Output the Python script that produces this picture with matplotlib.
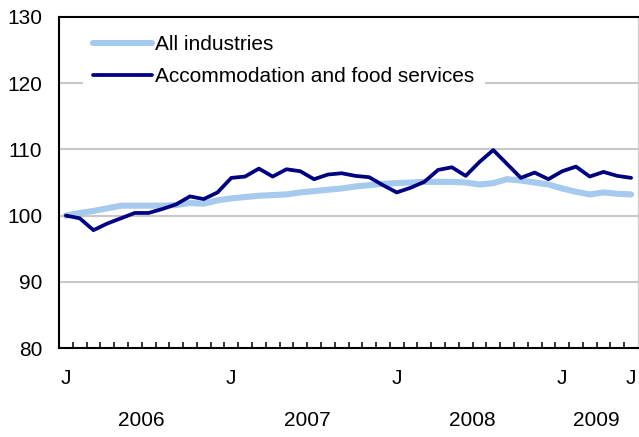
import numpy as np
import matplotlib
matplotlib.use("Agg")
import matplotlib.pyplot as plt
import matplotlib.transforms as mtransforms

# Monthly index, January 2006 = 100, Jan 2006 .. Jun 2009
all_industries = [
    100.0, 100.4, 100.7, 101.1, 101.5, 101.5, 101.5, 101.5, 101.6, 101.9,
    101.8, 102.3, 102.6, 102.8, 103.0, 103.1, 103.2, 103.5, 103.7, 103.9,
    104.1, 104.4, 104.6, 104.8, 104.9, 105.0, 105.1, 105.1, 105.1, 105.0,
    104.7, 104.9, 105.5, 105.3, 105.0, 104.7, 104.1, 103.6, 103.2, 103.5,
    103.3, 103.2,
]
accommodation_food = [
    100.0, 99.6, 97.8, 98.8, 99.6, 100.4, 100.4, 101.0, 101.7, 102.9,
    102.5, 103.5, 105.7, 105.9, 107.1, 105.9, 107.0, 106.7, 105.5, 106.2,
    106.4, 106.0, 105.8, 104.6, 103.5, 104.2, 105.1, 106.9, 107.3, 106.0,
    108.1, 109.9, 107.8, 105.7, 106.5, 105.5, 106.7, 107.4, 105.9, 106.6,
    106.0, 105.7,
]
series_labels = ["All industries", "Accommodation and food services"]
month_labels = {0: "J", 12: "J", 24: "J", 36: "J", 41: "J"}
year_labels = {5.5: "2006", 17.5: "2007", 29.5: "2008", 38.5: "2009"}
y_ticks = [80, 90, 100, 110, 120, 130]

light_blue = "#a6c9ee"
navy = "#000080"
grid_gray = "#c8c8c8"
fs = 15.0
plt.rcParams["font.family"] = ["Liberation Sans", "DejaVu Sans"]

fig = plt.figure(figsize=(6.39, 4.37), dpi=100)
ax = fig.add_axes([59 / 639, 1 - 348 / 437, 579 / 639, 331 / 437])

x = np.arange(len(all_industries))
ax.plot(x, all_industries, color=light_blue, lw=4.4, solid_capstyle="round",
        label=series_labels[0], zorder=3)
ax.plot(x, accommodation_food, color=navy, lw=2.7, solid_capstyle="round",
        label=series_labels[1], zorder=4)

ax.set_xlim(-0.5, len(x) - 0.5)
ax.set_ylim(80, 130)

# horizontal gridlines
for v in y_ticks[1:-1]:
    ax.axhline(v, color=grid_gray, lw=1.5, zorder=1)

ax.set_yticks(y_ticks)
ax.set_yticklabels([str(v) for v in y_ticks], fontsize=fs)
ax.tick_params(axis="y", length=0, pad=12)

# minor ticks at month boundaries, pointing inward
ax.set_xticks([])
ax.set_xticks(np.arange(0.5, len(x) - 1, 1.0), minor=True)
ax.tick_params(axis="x", which="minor", direction="in", length=4.5, width=1.1,
               color="black")

trans = mtransforms.blended_transform_factory(ax.transData, ax.transAxes)
for pos, lab in month_labels.items():
    ax.text(pos, -0.091, lab, transform=trans, ha="center", va="center", fontsize=fs)
for pos, lab in year_labels.items():
    ax.text(pos, -0.218, lab, transform=trans, ha="center", va="center", fontsize=fs)

for side in ["left", "bottom", "top"]:
    ax.spines[side].set_color("black")
    ax.spines[side].set_linewidth(1.5)
ax.spines["right"].set_color("#d0d0d0")
ax.spines["right"].set_linewidth(1.0)

leg = ax.legend(loc="upper left", bbox_to_anchor=(0.0415, 0.976), fontsize=fs,
                frameon=True, fancybox=False, borderpad=0.5, borderaxespad=0,
                handlelength=2.8, handletextpad=0.15, labelspacing=0.6)
leg.get_frame().set_facecolor("white")
leg.get_frame().set_edgecolor("none")
leg.get_frame().set_alpha(1)
leg.set_zorder(5)

fig.savefig("out.png", dpi=100)
